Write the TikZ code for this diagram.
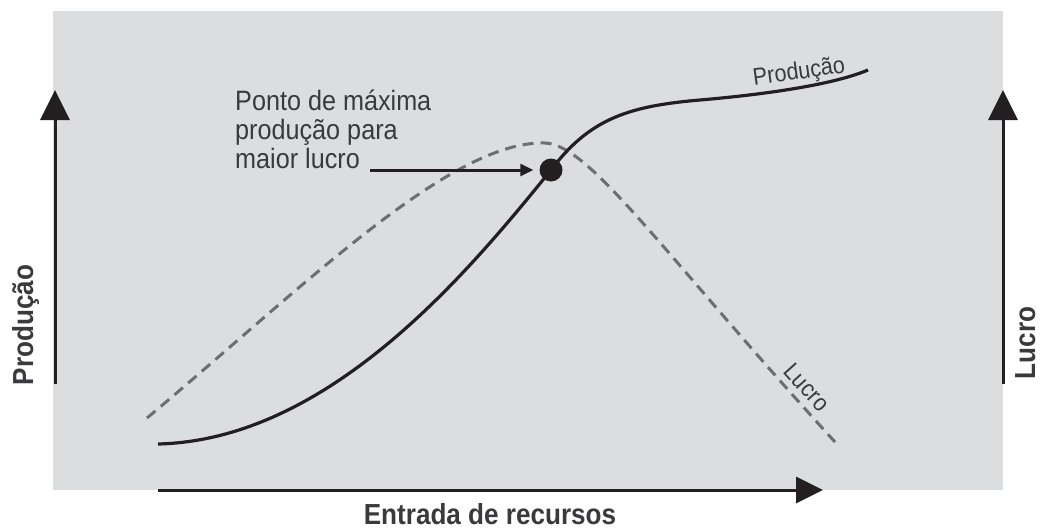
\documentclass[tikz,border=0pt]{standalone}
\usepackage{fontspec}
\setmainfont{Liberation Sans}[FakeStretch=0.9]
\usetikzlibrary{arrows.meta}
\definecolor{panelgray}{HTML}{DCDDDF}
\definecolor{inkblack}{HTML}{231F20}
\definecolor{dashgray}{HTML}{6D6E70}
\definecolor{textgray}{HTML}{3A3A3C}
\begin{document}
\begin{tikzpicture}[x=1pt,y=-1pt,
    axisline/.style={line width=3pt, draw=inkblack},
    axislabel/.style={font=\fontsize{29}{29}\selectfont\bfseries, text=textgray, inner sep=0pt},
    curvelabel/.style={font=\fontsize{24}{24}\selectfont, text=textgray, inner sep=0pt}]
  \useasboundingbox (0,0) rectangle (1041,530);

  % Drawing gray panel
  \fill [panelgray] (53,11) rectangle (1003,490);

  % Marking axis ends
  \coordinate (yprod0) at (55,384);
  \coordinate (yprod1) at (55,90);
  \coordinate (ylucro0) at (1003,384);
  \coordinate (ylucro1) at (1003,90);
  \coordinate (xin0) at (158,490);
  \coordinate (xin1) at (823,490);

  % Drawing axes
  \draw [axisline, -{Triangle[length=30pt,width=29pt]}] (yprod0) -- (yprod1);
  \draw [axisline, -{Triangle[length=30pt,width=29pt]}] (ylucro0) -- (ylucro1);
  \draw [axisline, -{Triangle[length=27pt,width=26pt]}] (xin0) -- (xin1);

  % Axis labels
  \node [axislabel, rotate=90, anchor=base] (prodlabel) at (33,325) {Produção};
  \node [axislabel, rotate=90, anchor=base] (lucrolabel) at (1035,343) {Lucro};
  \node [axislabel, anchor=base] (inlabel) at (490,524) {Entrada de recursos};

  % Drawing curve Lucro (dashed)
  \draw [line width=3pt, dashgray, dash pattern=on 11pt off 7pt]
    (147,418) .. controls (300,290) and (450,140) .. (545,143)
              .. controls (590,145) and (660,250) .. (835,442);

  % Drawing curve Produção
  \draw [line width=3.2pt, inkblack]
    (158,444) .. controls (330,440) and (470,270) .. (551,170)
              .. controls (590,118) and (630,106) .. (700,100)
              .. controls (770,94) and (835,84) .. (868,70);

  % Curve labels
  \node [curvelabel, rotate=8, anchor=base] (prodcurve) at (800,79) {Produção};
  \node [curvelabel, rotate=-48, anchor=base] (lucrocurve) at (801,393) {Lucro};

  % Marking point of maximum
  \node [circle, fill=inkblack, minimum size=23pt, inner sep=0pt] (pmax) at (551,170) {};

  % Annotation
  \node [anchor=north west, align=left, inner sep=0pt, text=textgray,
         font=\fontsize{28}{29}\selectfont] (note) at (235,90)
        {Ponto de máxima\\produção para\\maior lucro};
  \coordinate (notetail) at (370,170);
  \draw [line width=3pt, inkblack, -{Triangle[length=13pt,width=12pt]}, shorten >=6pt]
    (notetail) -- (pmax.west);
\end{tikzpicture}
\end{document}
